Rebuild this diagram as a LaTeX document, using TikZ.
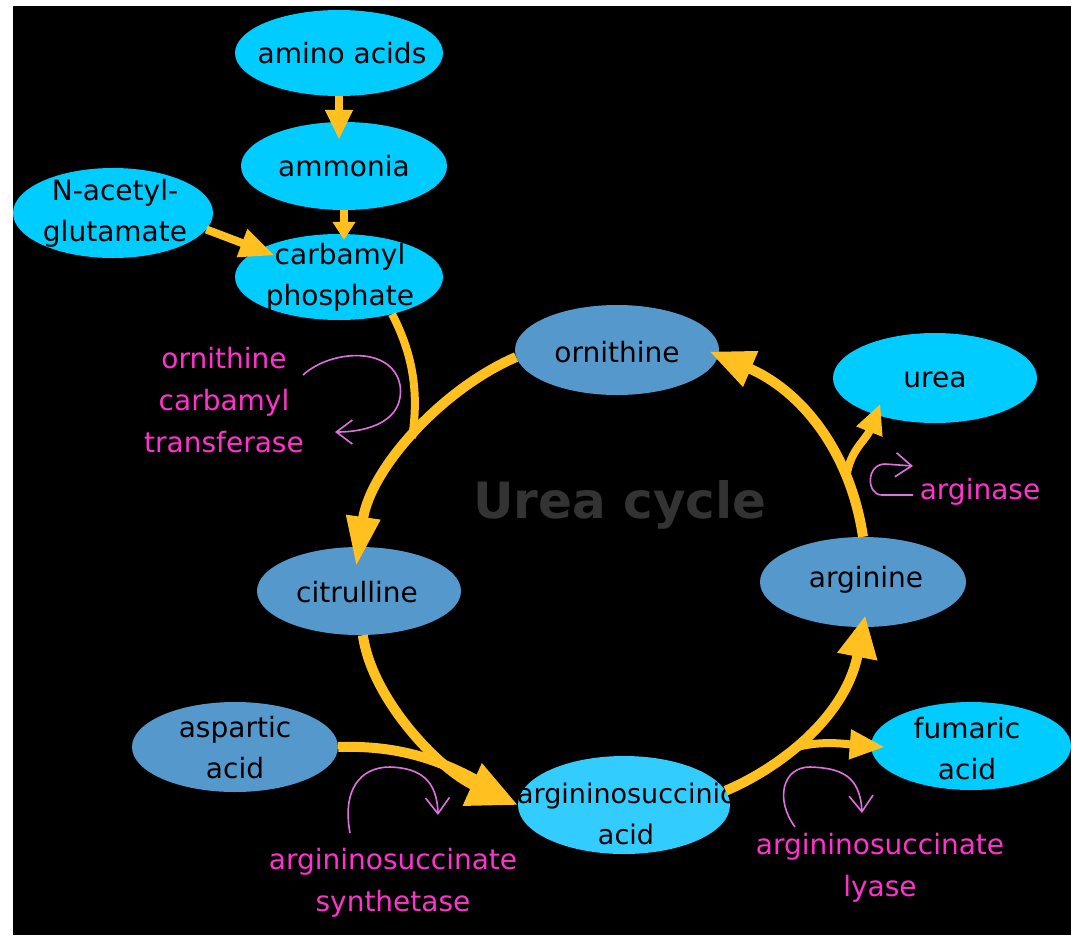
\documentclass[tikz,border=0pt]{standalone}
\usepackage{fontspec}
\setmainfont{DejaVu Sans}
\usetikzlibrary{arrows.meta,shapes.geometric}
\definecolor{cyanb}{RGB}{0,204,255}
\definecolor{cyanl}{RGB}{51,204,255}
\definecolor{steel}{RGB}{85,153,204}
\definecolor{gold}{RGB}{255,192,32}
\definecolor{pinktxt}{RGB}{255,51,204}
\definecolor{hookc}{RGB}{224,112,224}
\definecolor{cycgray}{RGB}{51,51,51}
\begin{document}
\begin{tikzpicture}[x=1pt,y=-1pt,
  blob/.style={ellipse, inner sep=0pt, draw=none},
  bright/.style={blob, fill=cyanb},
  light/.style={blob, fill=cyanl},
  dull/.style={blob, fill=steel},
  txt/.style={font=\fontsize{28}{41}\selectfont, text=black, align=center, inner sep=0pt},
  pinklbl/.style={font=\fontsize{28}{42}\selectfont, text=pinktxt, align=center, inner sep=0pt},
  cyc/.style={draw=gold, line width=10pt},
  side/.style={draw=gold, line width=8pt},
  hookarrow/.style={draw=hookc, line width=1.6pt, -{Straight Barb[length=16pt,width=24pt,line width=1.6pt]}}
]
\useasboundingbox (0,0) rectangle (1071,935);
\fill[white] (0,0) rectangle (1071,935);
\fill[black] (13,6) rectangle (1071,935);

% title
\node[font=\fontsize{50}{60}\selectfont\bfseries, text=cycgray, inner sep=0pt] (title) at (620,505) {Urea cycle};

% nodes
\node[bright, minimum width=208pt, minimum height=86pt] (amino) at (339,53) {};
\node[txt] (aminot) at (342,53) {amino acids};
\node[bright, minimum width=206pt, minimum height=88pt] (ammonia) at (344,166) {};
\node[txt] (ammoniat) at (ammonia) {ammonia};
\node[bright, minimum width=200pt, minimum height=90pt] (nag) at (113,213) {};
\node[txt] (nagt) at (115,213) {N-acetyl-\\glutamate};
\node[bright, minimum width=208pt, minimum height=86pt] (carb) at (339,277) {};
\node[txt] (carbt) at (340,277) {carbamyl\\phosphate};
\node[dull, minimum width=204pt, minimum height=90pt] (orn) at (617,350) {};
\node[txt] (ornt) at (617,352) {ornithine};
\node[bright, minimum width=204pt, minimum height=90pt] (urea) at (935,378) {};
\node[txt] (ureat) at (935,380) {urea};
\node[dull, minimum width=206pt, minimum height=90pt] (arg) at (863,582) {};
\node[txt] (argt) at (866,580) {arginine};
\node[dull, minimum width=204pt, minimum height=88pt] (cit) at (359,591) {};
\node[txt] (citt) at (357,592) {citrulline};
\node[dull, minimum width=206pt, minimum height=90pt] (asp) at (235,747) {};
\node[txt] (aspt) at (235,748) {aspartic\\acid};
\node[light, minimum width=212pt, minimum height=98pt] (asa) at (624,805) {};
\node[txt, font=\fontsize{27}{41}\selectfont] (asat) at (626,814) {argininosuccinic\\acid};
\node[bright, minimum width=200pt, minimum height=88pt] (fum) at (971,746) {};
\node[txt] (fumt) at (967,749) {fumaric\\acid};

% enzyme labels
\node[pinklbl] (oct) at (224,400) {ornithine\\carbamyl\\transferase};
\node[pinklbl] (argase) at (980,492) {arginase};
\node[pinklbl] (ass) at (393,883) {argininosuccinate\\synthetase};
\node[pinklbl] (asl) at (880,868) {argininosuccinate\\lyase};

% upper arrows
\draw[side, -{Triangle[length=30pt,width=26pt]}, shorten >=-18pt] (amino.south) -- (amino.south |- ammonia.north);
\draw[side, -{Triangle[length=18pt,width=22pt]}, shorten >=-6pt] (ammonia.south) -- (ammonia.south |- carb.north);
\draw[side, -{Triangle[length=35pt,width=28pt]}, shorten >=-17pt] (nag.-10) -- (carb.161);

% cycle
\draw[cyc, -{Triangle[length=50pt,width=32pt]}, shorten >=-20pt]
  (orn.184) .. controls (440,390) and (370,470) .. (cit.north);
\coordinate (m1) at (412,438);
\draw[side] (carb.-35) .. controls (416,360) and (418,400) .. (m1);

\draw[cyc, shorten >=25pt] (asp.east) .. controls (400,745) and (445,760) .. (asa.west);
\draw[cyc, -{Triangle[length=50pt,width=44pt]}]
  (cit.-85) .. controls (372,700) and (440,770) .. (asa.west);

\draw[cyc, -{Triangle[length=42pt,width=38pt]}, shorten >=-12pt]
  (asa.8) .. controls (775,770) and (845,720) .. (arg.south) coordinate[pos=0.42] (b1);
\draw[side, -{Triangle[length=35pt,width=28pt]}, shorten >=-14pt]
  (b1) .. controls (820,740) and (845,744) .. (fum.west);

\draw[cyc, -{Triangle[length=45pt,width=36pt]}, shorten >=-10pt]
  (arg.north) .. controls (850,450) and (800,390) .. (orn.-3) coordinate[pos=0.25] (b2);
\draw[side, -{Triangle[length=30pt,width=26pt]}, shorten >=-12pt]
  (b2) .. controls (850,450) and (866,440) .. (urea.212);

% enzyme hooks
\draw[hookarrow] (303,375) .. controls (330,350) and (392,345) .. (400,385) .. controls (405,420) and (370,432) .. (335,432);
\draw[hookarrow] (913,495) -- (882,495) .. controls (866,495) and (866,464) .. (885,464) -- (913,466);
\draw[hookarrow] (350,833) .. controls (342,790) and (360,767) .. (390,767) .. controls (420,768) and (437,780) .. (438,815);
\draw[hookarrow] (795,827) .. controls (775,800) and (782,767) .. (810,767) .. controls (840,768) and (860,775) .. (862,813);
\end{tikzpicture}
\end{document}
